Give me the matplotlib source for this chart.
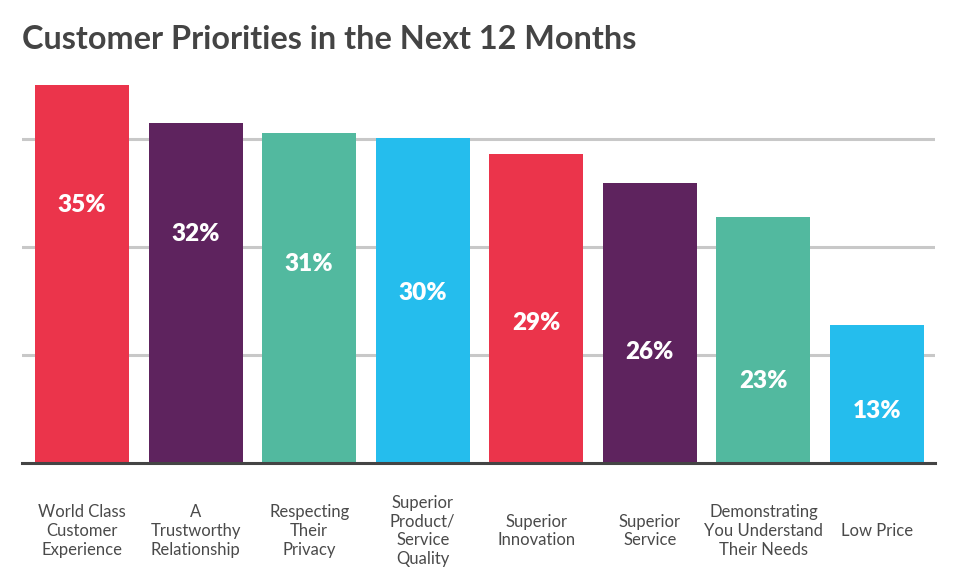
import matplotlib
matplotlib.use("Agg")
import matplotlib.pyplot as plt
from matplotlib.transforms import blended_transform_factory

categories = [
    "World Class\nCustomer\nExperience",
    "A\nTrustworthy\nRelationship",
    "Respecting\nTheir\nPrivacy",
    "Superior\nProduct/\nService\nQuality",
    "Superior\nInnovation",
    "Superior\nService",
    "Demonstrating\nYou Understand\nTheir Needs",
    "Low Price",
]
values = [35.0, 31.5, 30.6, 30.1, 28.6, 25.9, 22.8, 12.8]
value_labels = ["35%", "32%", "31%", "30%", "29%", "26%", "23%", "13%"]
colors = ["#EB344B", "#5E235E", "#52B99F", "#25BDED",
          "#EB344B", "#5E235E", "#52B99F", "#25BDED"]
title = "Customer Priorities in the Next 12 Months"

W, H = 976, 588
fig = plt.figure(figsize=(W / 100, H / 100), dpi=100)
left, right, bottom, top = 22, 935, 463, 80
ax = fig.add_axes([left / W, 1 - bottom / H, (right - left) / W, (bottom - top) / H])

step = 113.6
x = list(range(len(values)))
ax.bar(x, values, width=94 / step, color=colors, zorder=2)
ax.set_xlim(-(82 - left) / step, len(values) - 1 + (right - 877) / step)
ax.set_ylim(0, (bottom - top) / 10.8)

ax.set_yticks([10, 20, 30])
ax.yaxis.grid(True, color="#C8C8C8", linewidth=2.2)
ax.set_axisbelow(True)
ax.tick_params(left=False, bottom=False, labelleft=False, labelbottom=False)
for s in ["top", "left", "right"]:
    ax.spines[s].set_visible(False)
ax.spines["bottom"].set_color("#444444")
ax.spines["bottom"].set_linewidth(2.2)
ax.spines["bottom"].set_zorder(3)

# staggered value labels inside bars
for i, (xi, lab) in enumerate(zip(x, value_labels)):
    ypx = 205 + 29.4 * i
    ax.text(xi, (bottom - ypx) / 10.8, lab, ha="center", va="center",
            color="white", fontsize=17.5, fontweight="heavy", family="Lato", zorder=4)

trans = blended_transform_factory(ax.transData, fig.transFigure)
for xi, cat in zip(x, categories):
    ax.text(xi, 1 - 531 / H, cat, transform=trans, ha="center", va="center",
            multialignment="center", color="#4A4A4A", fontsize=12,
            family="Lato", linespacing=1.23, clip_on=False)

fig.text(22 / W, 1 - 49 / H, title, ha="left", va="baseline",
         color="#444444", fontsize=23.3, fontweight="bold", family="Lato")

fig.savefig("out.png", dpi=100, facecolor="white")
